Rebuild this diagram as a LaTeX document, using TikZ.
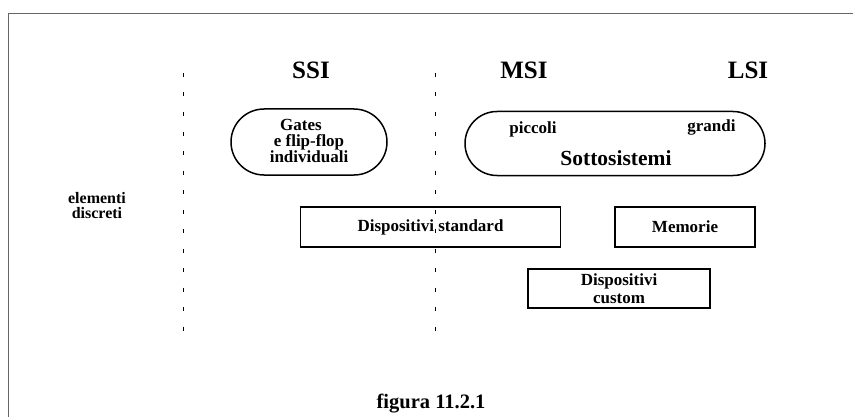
\documentclass[tikz,border=0pt]{standalone}
\usepackage{fontspec}
\setmainfont{Liberation Serif}
\usetikzlibrary{positioning}
\begin{document}
\begin{tikzpicture}[x=1pt,y=-1pt]
\tikzstyle{box node}=[rectangle,draw,line width=1.8pt,inner sep=0,align=center,font=\bfseries\fontsize{17}{18}\selectfont]
\tikzstyle{pill node}=[rectangle,draw,line width=1.5pt,inner sep=0]
\tikzstyle{lbl node}=[inner sep=0,align=center,font=\bfseries\fontsize{17}{16}\selectfont]
\tikzset{
  head node/.style = {inner sep=0,font=\bfseries\fontsize{25}{30}\selectfont},
  big node/.style  = {inner sep=0,font=\bfseries\fontsize{21.5}{24}\selectfont},
  sep line/.style  = {line width=0.7pt,dash pattern=on 4pt off 15.5pt},
  frame line/.style = {draw=black!60,line width=0.8pt}
}
\useasboundingbox (0,0) rectangle (853,417);

    % cornice
    \coordinate (fr) at (853,13);
    \coordinate (fc) at (8,13);
    \coordinate (fb) at (8,417);
    \draw[frame line] (fr) -- (fc) -- (fb);

    % separatori
    \coordinate (s1t) at (183,73);
    \coordinate (s1b) at (183,336);
    \coordinate (s2t) at (435,73);
    \coordinate (s2b) at (435,336);
    \draw[sep line] (s1t) -- (s1b);
    \draw[sep line] (s2t) -- (s2b);

    \node[head node] (ssi) at (311,70) {SSI};
    \node[head node] (msi) at (524,70) {MSI};
    \node[head node] (lsi) at (748,70) {LSI};

    %%%%%%%%%%%%%%%%%%%%%%%%%%
    \node[pill node,rounded corners=33pt,minimum width=156pt,minimum height=66pt] (gates) at (309,142) {};
    \node[lbl node] (gt) at (309,141) {Gates\hspace*{16pt}\\e flip-flop\\individuali};

    \node[pill node,rounded corners=32pt,minimum width=300pt,minimum height=64pt] (sott) at (615,143.5) {};
    \node[lbl node] (picc) [below right=11pt and 45pt of sott.north west,anchor=north west] {piccoli};
    \node[lbl node] (gran) [below left=9pt and 30pt of sott.north east,anchor=north east] {grandi};
    \node[big node] (sst) at (616,158) {Sottosistemi};

    %%%%%%%%%%%%%%%%%%%%%%%%%%
    \node[box node,minimum width=260pt,minimum height=40pt] (std) at (430.5,227) {Dispositivi standard};
    \node[box node,minimum width=140pt,minimum height=40pt] (mem) at (685,227) {Memorie};
    \node[box node,minimum width=182pt,minimum height=39pt] (cust) at (619,288.5) {Dispositivi\\custom};

    \node[lbl node,font=\bfseries\fontsize{16}{15}\selectfont] (disc) at (97,206) {elementi\\discreti};
    \node[big node,font=\bfseries\fontsize{20.5}{24}\selectfont] (fig) at (431,404) {figura 11.2.1};
\end{tikzpicture}
\end{document}
